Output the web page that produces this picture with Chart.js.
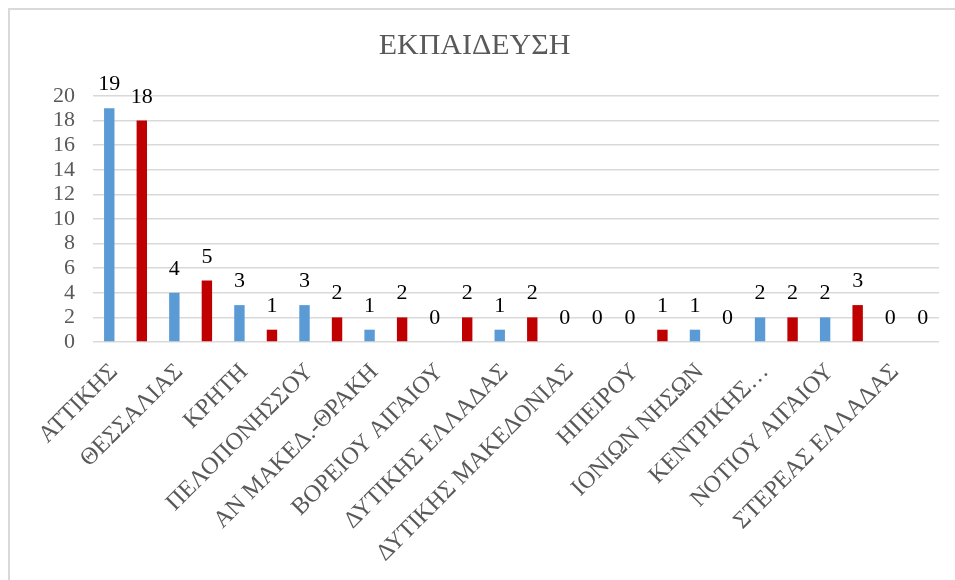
<!DOCTYPE html>
<html>
<head>
<meta charset="utf-8">
<script src="https://cdn.jsdelivr.net/npm/chart.js@4/dist/chart.umd.min.js"></script>
<style>
  body { margin: 0; background: #fff; overflow: hidden; }
  #box { position: absolute; left: 8px; top: 8px; width: 960px; height: 600px;
         border: 2px solid #d9d9d9; box-sizing: border-box; }
</style>
</head>
<body>
<div id="box"><canvas id="eduChart"></canvas></div>
<script>
var chartTitle = 'ΕΚΠΑΙΔΕΥΣΗ';
var regions = [
    'ΑΤΤΙΚΗΣ', 'ΘΕΣΣΑΛΙΑΣ', 'ΚΡΗΤΗ', 'ΠΕΛΟΠΟΝΗΣΣΟΥ', 'ΑΝ ΜΑΚΕΔ.-ΘΡΑΚΗ',
    'ΒΟΡΕΙΟΥ ΑΙΓΑΙΟΥ', 'ΔΥΤΙΚΗΣ ΕΛΛΑΔΑΣ', 'ΔΥΤΙΚΗΣ ΜΑΚΕΔΟΝΙΑΣ', 'ΗΠΕΙΡΟΥ',
    'ΙΟΝΙΩΝ ΝΗΣΩΝ', 'ΚΕΝΤΡΙΚΗΣ…', 'ΝΟΤΙΟΥ ΑΙΓΑΙΟΥ', 'ΣΤΕΡΕΑΣ ΕΛΛΑΔΑΣ'
];
// two bars per region (blue, red)
var counts = [19, 18, 4, 5, 3, 1, 3, 2, 1, 2, 0, 2, 1, 2, 0, 0, 0, 1, 1, 0, 2, 2, 2, 3, 0, 0];
var yMax = 20;
var yStep = 2;
var barColors = ['#5B9BD5', '#C00000'];

var categories = [];
regions.forEach(function (r) { categories.push(r, ''); });
var colors = counts.map(function (v, i) { return barColors[i % 2]; });

var valueLabels = {
    id: 'valueLabels',
    afterDatasetsDraw: function (chart) {
        var ctx = chart.ctx;
        var meta = chart.getDatasetMeta(0);
        ctx.save();
        ctx.font = '22px "Liberation Serif"';
        ctx.fillStyle = '#000';
        ctx.textAlign = 'center';
        ctx.textBaseline = 'alphabetic';
        meta.data.forEach(function (bar, i) {
            ctx.fillText(counts[i], bar.x, bar.y - 18);
        });
        ctx.restore();
    }
};

function buildEduChart() {
    var ctx = document.getElementById('eduChart').getContext('2d');
    new Chart(ctx, {
        type: 'bar',
        data: {
            labels: categories,
            datasets: [{
                data: counts,
                backgroundColor: colors,
                categoryPercentage: 1,
                barPercentage: 0.32
            }]
        },
        options: {
            responsive: true,
            maintainAspectRatio: false,
            animation: false,
            layout: { padding: { left: 0, right: 27, top: 0, bottom: 0 } },
            plugins: {
                legend: { display: false },
                tooltip: { enabled: false },
                title: {
                    display: true,
                    text: chartTitle,
                    color: '#595959',
                    font: { family: 'Liberation Serif', size: 30, weight: 'normal' },
                    padding: { top: 18, bottom: 32 }
                }
            },
            scales: {
                x: {
                    grid: { display: false },
                    border: { display: false },
                    ticks: {
                        autoSkip: false,
                        minRotation: 45,
                        maxRotation: 45,
                        color: '#595959',
                        padding: 8,
                        labelOffset: 5,
                        font: { family: 'Liberation Serif', size: 24 }
                    },
                    afterFit: function (scale) { scale.height = 264; }
                },
                y: {
                    min: 0,
                    max: yMax,
                    grid: { color: '#d9d9d9', lineWidth: 1.5, drawTicks: false },
                    border: { display: false },
                    ticks: {
                        stepSize: yStep,
                        autoSkip: false,
                        color: '#595959',
                        padding: 18,
                        font: { family: 'Liberation Serif', size: 22 }
                    },
                    afterFit: function (scale) { scale.width = 83; }
                }
            }
        },
        plugins: [valueLabels]
    });
}

buildEduChart();
</script>
</body>
</html>
